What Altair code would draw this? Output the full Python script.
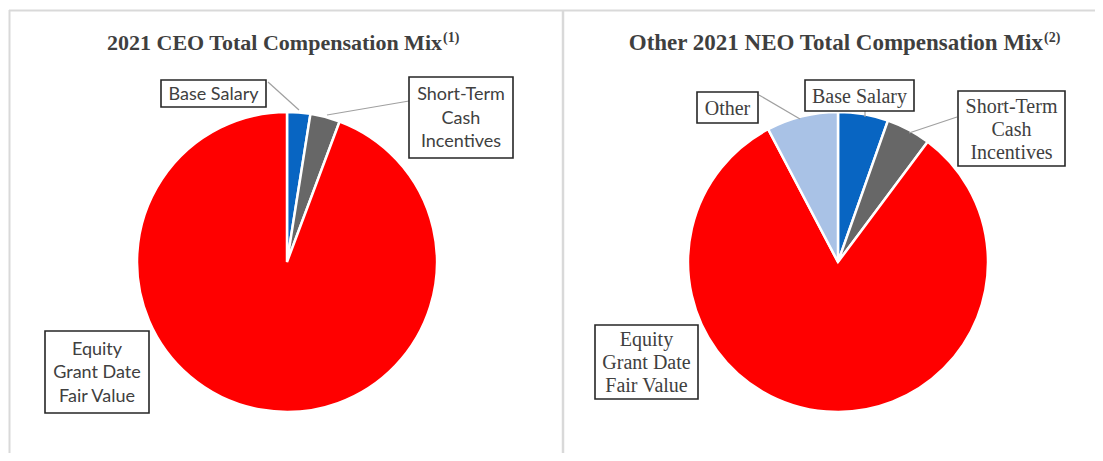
import altair as alt
import pandas as pd

# ---------------- data ----------------
ceo_categories = ["Base Salary", "Short-Term Cash Incentives", "Equity Grant Date Fair Value"]
ceo_shares = [2.5, 3.2, 94.3]

neo_categories = ["Base Salary", "Short-Term Cash Incentives", "Equity Grant Date Fair Value", "Other"]
neo_shares = [5.4, 4.8, 82.1, 7.7]

ceo_title = "2021 CEO Total Compensation Mix"
ceo_note = "(1)"
neo_title = "Other 2021 NEO Total Compensation Mix"
neo_note = "(2)"

label_lines = {
    "Base Salary": ["Base Salary"],
    "Short-Term Cash Incentives": ["Short-Term", "Cash", "Incentives"],
    "Equity Grant Date Fair Value": ["Equity", "Grant Date", "Fair Value"],
    "Other": ["Other"],
}

color_domain = ["Base Salary", "Short-Term Cash Incentives", "Equity Grant Date Fair Value", "Other"]
color_range = ["#0865C2", "#676767", "#FF0000", "#A9C2E6"]

# ---------------- helpers ----------------
one = alt.Data(values=[{}])
R = 150


def pie(categories, shares, cx, cy):
    df = pd.DataFrame({"category": categories, "share": shares, "idx": list(range(len(categories)))})
    return alt.Chart(df).mark_arc(outerRadius=R, stroke="white", strokeWidth=2.5).encode(
        theta=alt.Theta("share:Q", stack=True),
        color=alt.Color("category:N", scale=alt.Scale(domain=color_domain, range=color_range), legend=None),
        order=alt.Order("idx:Q"),
        x=alt.value(cx),
        y=alt.value(cy),
    )


def rule(x1, y1, x2, y2, color="#A0A0A0", width=1.2):
    return alt.Chart(one).mark_rule(color=color, strokeWidth=width).encode(
        x=alt.value(x1), y=alt.value(y1), x2=alt.value(x2), y2=alt.value(y2)
    )


def box(cat, x1, y1, x2, y2, font, size, lh):
    lines = label_lines[cat]
    r = alt.Chart(one).mark_rect(fill="white", stroke="#262626", strokeWidth=1.6).encode(
        x=alt.value(x1), x2=alt.value(x2), y=alt.value(y1), y2=alt.value(y2)
    )
    first_y = (y1 + y2) / 2 - (len(lines) - 1) * lh / 2 + 1
    t = alt.Chart(one).mark_text(
        font=font, fontSize=size, color="#404040", align="center", baseline="middle",
        lineBreak="\n", lineHeight=lh,
    ).encode(
        x=alt.value((x1 + x2) / 2), y=alt.value(first_y), text=alt.value("\n".join(lines))
    )
    return r + t


def title(main, note, x_end, base_y, size):
    m = alt.Chart(one).mark_text(
        font="Liberation Serif", fontWeight="bold", fontSize=size, color="#3F3F3F",
        align="right", baseline="alphabetic",
    ).encode(x=alt.value(x_end), y=alt.value(base_y), text=alt.value(main))
    n = alt.Chart(one).mark_text(
        font="Liberation Serif", fontWeight="bold", fontSize=14, color="#3F3F3F",
        align="left", baseline="alphabetic",
    ).encode(x=alt.value(x_end + 1), y=alt.value(base_y - 8), text=alt.value(note))
    return m + n


sans = "Lato"
serif = "Liberation Serif"

frame = (
    rule(1, 2.5, 1100, 2.5, color="#D9D9D9", width=2)
    + rule(1.5, 2, 1.5, 460, color="#D9D9D9", width=2)
    + rule(555, 2, 555, 460, color="#D9D9D9", width=2.5)
)

left = (
    pie(ceo_categories, ceo_shares, 279, 254)
    + rule(260, 74, 291, 102)
    + rule(401, 93, 319, 107)
    + box("Base Salary", 153, 72, 258, 99, sans, 18, 23.5)
    + box("Short-Term Cash Incentives", 401, 69, 505, 150, sans, 18, 23.5)
    + box("Equity Grant Date Fair Value", 37, 323, 141, 405, sans, 18, 23.5)
    + title(ceo_title, ceo_note, 434, 42, 22)
)

right = (
    pie(neo_categories, neo_shares, 830, 254)
    + rule(751, 87, 792, 111)
    + rule(857, 103, 857, 109)
    + rule(949, 109, 901, 125)
    + box("Other", 689, 84, 750, 115, serif, 20, 23)
    + box("Base Salary", 797, 72, 906, 103, serif, 20, 23)
    + box("Short-Term Cash Incentives", 950, 83, 1057, 158, serif, 20, 23)
    + box("Equity Grant Date Fair Value", 587, 317, 690, 391, serif, 20, 23)
    + title(neo_title, neo_note, 1035, 42, 23)
)

chart = (
    alt.layer(frame, left, right)
    .resolve_scale(theta="independent")
    .properties(width=1087, height=445, padding=0, autosize="none", background="white")
    .configure_view(stroke=None)
)

chart.save("out.html", embed_options={"renderer": "svg", "actions": False})
